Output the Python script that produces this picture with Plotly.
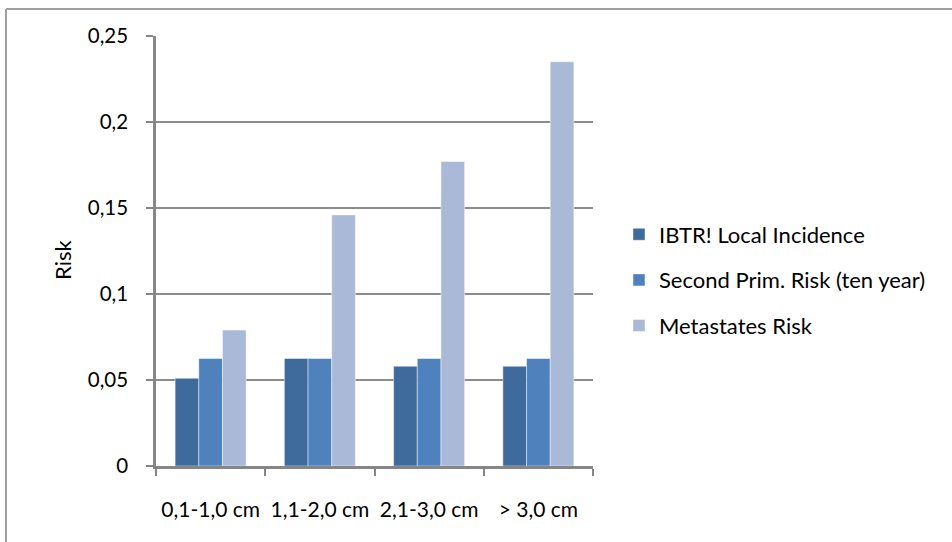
import plotly.graph_objects as go

categories = ["0,1-1,0 cm", "1,1-2,0 cm", "2,1-3,0 cm", "> 3,0 cm"]
ibtr = [0.051, 0.0625, 0.058, 0.058]
second_prim = [0.0625, 0.0625, 0.0625, 0.0625]
metastases = [0.079, 0.146, 0.177, 0.235]
series_names = ["IBTR! Local Incidence", "Second Prim. Risk (ten year)", "Metastates Risk"]
series_colors = ["#3F6A9C", "#4F81BD", "#AAB9D7"]
y_tickvals = [0, 0.05, 0.1, 0.15, 0.2, 0.25]
y_ticktext = ["0", "0,05", "0,1", "0,15", "0,2", "0,25"]

W, H = 952, 542
L, R, T, B = 156, 359, 36, 76
pw, ph = W - L - R, H - T - B

def px_x(p):
    return (p - L) / pw

def px_y(p):
    return (H - B - p) / ph

FONT = "Lato"
fig = go.Figure()
for i, (name, vals, col) in enumerate(zip(series_names, [ibtr, second_prim, metastases], series_colors)):
    fig.add_trace(go.Bar(
        x=categories, y=vals, name=name, legendgroup=f"g{i}",
        marker=dict(color=col, line=dict(color="rgba(255,255,255,0.45)", width=1)),
    ))

fig.update_layout(
    width=W, height=H,
    margin=dict(l=L, r=R, t=T, b=B, autoexpand=False),
    paper_bgcolor="white", plot_bgcolor="white",
    barmode="group", bargap=0.35, bargroupgap=0,
    font=dict(family=FONT, size=21, color="#000000"),
    showlegend=True,
    legend=dict(
        x=px_x(619), y=px_y(280), xanchor="left", yanchor="middle",
        font=dict(family=FONT, size=22, color="#000000"),
        tracegroupgap=14, traceorder="grouped", itemwidth=30,
        bgcolor="rgba(0,0,0,0)",
    ),
    xaxis=dict(
        showline=True, linecolor="#868686", linewidth=2.5,
        ticks="outside", ticklen=7, tickcolor="#868686", tickwidth=2,
        tickson="boundaries", showgrid=False, zeroline=False,
        tickangle=0, automargin=False,
        ticklabelstandoff=23,
        tickfont=dict(family=FONT, size=21, color="#000000"),
    ),
    yaxis=dict(
        range=[0, 0.25], tickvals=y_tickvals, ticktext=y_ticktext,
        showline=True, linecolor="#868686", linewidth=2.5,
        ticks="outside", ticklen=7, tickcolor="#868686", tickwidth=2,
        showgrid=True, gridcolor="#8C8C8C", gridwidth=2, zeroline=False,
        automargin=False,
        ticklabelstandoff=14,
        tickfont=dict(family=FONT, size=20.5, color="#000000"),
    ),
    shapes=[
        dict(type="line", xref="paper", yref="paper", x0=px_x(6), x1=px_x(960), y0=px_y(9), y1=px_y(9),
             line=dict(color="#A0A0A0", width=2)),
        dict(type="line", xref="paper", yref="paper", x0=px_x(6), x1=px_x(6), y0=px_y(9), y1=px_y(560),
             line=dict(color="#A0A0A0", width=2)),
    ],
    annotations=[
        dict(text="Risk", xref="paper", yref="paper", x=px_x(62), y=px_y(260), textangle=-90,
             showarrow=False, xanchor="center", yanchor="middle",
             font=dict(family=FONT, size=22, color="#000000")),
    ],
)

fig.write_html("out.html")
